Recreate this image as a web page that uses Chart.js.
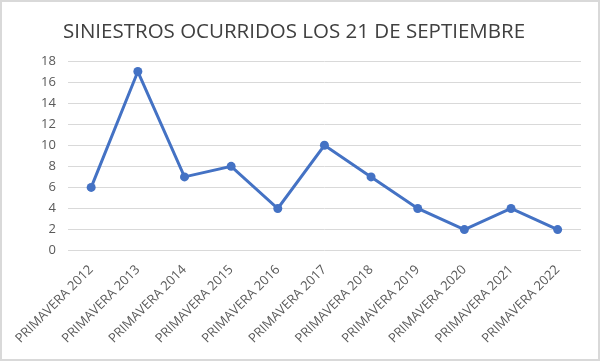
<!DOCTYPE html>
<html>
<head>
<meta charset="utf-8">
<script src="https://cdn.jsdelivr.net/npm/chart.js@4"></script>
<style>
  body { margin: 0; background: #fff; }
  #wrap { position: relative; width: 600px; height: 361px; box-sizing: border-box; border: 2px solid #d9d9d9; background: #fff; }
  #title { position: absolute; left: 0; width: 584px; top: 14px; text-align: center;
    font-family: 'Open Sans'; font-size: 20.5px; color: #404040; white-space: nowrap; }
  canvas { display: block; }
</style>
</head>
<body>
<div id="wrap">
  <div id="title">SINIESTROS OCURRIDOS LOS 21 DE SEPTIEMBRE</div>
  <canvas id="chart" width="596" height="357"></canvas>
</div>
<script>
// Data
const labels = ['PRIMAVERA 2012', 'PRIMAVERA 2013', 'PRIMAVERA 2014', 'PRIMAVERA 2015', 'PRIMAVERA 2016',
  'PRIMAVERA 2017', 'PRIMAVERA 2018', 'PRIMAVERA 2019', 'PRIMAVERA 2020', 'PRIMAVERA 2021', 'PRIMAVERA 2022'];
const siniestros = [6, 17, 7, 8, 4, 10, 7, 4, 2, 4, 2];
const yTicks = [0, 2, 4, 6, 8, 10, 12, 14, 16, 18];

const ctx = document.getElementById('chart').getContext('2d');
new Chart(ctx, {
    type: 'line',
    data: {
        labels: labels,
        datasets: [{
            label: 'Siniestros',
            data: siniestros,
            borderColor: '#4472C4',
            backgroundColor: '#4472C4',
            borderWidth: 3,
            pointRadius: 4.5,
            pointBackgroundColor: '#4472C4',
            pointBorderWidth: 0,
            tension: 0,
            fill: false,
        }],
    },
    options: {
        responsive: false,
        animation: false,
        layout: { padding: { left: 27, right: 17, top: 59, bottom: 1 } },
        plugins: {
            legend: { display: false },
            tooltip: { enabled: false },
            title: { display: false }
        },
        scales: {
            x: {
                offset: true,
                grid: { display: false, drawTicks: false },
                border: { display: false },
                ticks: {
                    color: '#595959',
                    font: { family: 'Open Sans', size: 13 },
                    minRotation: 45,
                    maxRotation: 45,
                    padding: 11.5,
                    autoSkip: false,
                }
            },
            y: {
                min: 0,
                max: 18,
                afterBuildTicks: axis => { axis.ticks = yTicks.map(v => ({ value: v })); },
                grid: { color: '#d9d9d9', lineWidth: 1, drawTicks: false },
                border: { display: false },
                ticks: {
                    color: '#595959',
                    font: { family: 'Open Sans', size: 13 },
                    padding: 12,
                }
            }
        }
    }
});
</script>
</body>
</html>
